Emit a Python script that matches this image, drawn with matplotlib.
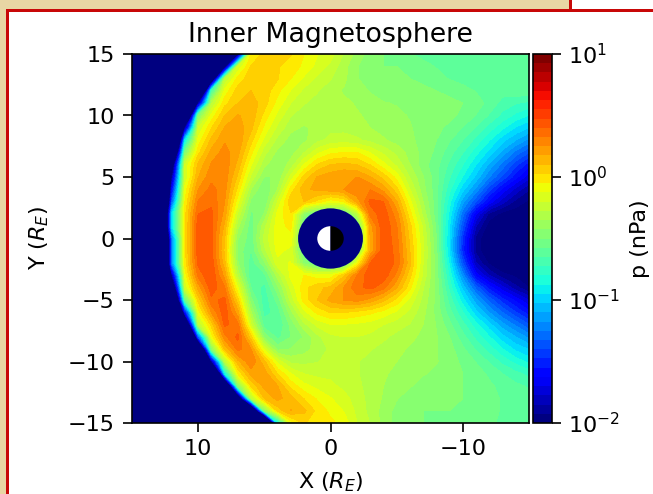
import numpy as np
import matplotlib
matplotlib.use("Agg")
import matplotlib.pyplot as plt
from matplotlib.cm import ScalarMappable
from matplotlib.colors import Normalize
from matplotlib.patches import Circle, Wedge, Rectangle

# log10 of p (nPa) at 1 R_E spacing
# columns run from X=15 (left) to X=-15 (right), one list per Y
x_grid = [15, 14, 13, 12, 11, 10, 9, 8, 7, 6, 5, 4, 3, 2, 1, 0, -1, -2, -3, -4, -5, -6, -7, -8, -9, -10, -11, -12, -13, -14, -15]
y_grid = [15, 14, 13, 12, 11, 10, 9, 8, 7, 6, 5, 4, 3, 2, 1, 0, -1, -2, -3, -4, -5, -6, -7, -8, -9, -10, -11, -12, -13, -14, -15]

y_p15 = [-2]*8 + [-2.2, -.05, .05, .07, .03, -.05, -.12, -.17, -.28, -.38, -.46, -.5, -.55, -.57, -.6, -.62, -.62, -.62, -.62, -.62, -.6, -.6, -.6]
y_p14 = [-2]*7 + [-2.3, -.2, .03, .06, .03, 0, -.07, -.15, -.22, -.32, -.42, -.48, -.5, -.5, -.52, -.55, -.58, -.6, -.62, -.62, -.62, -.62, -.6, -.58]
y_p13 = [-2]*6 + [-2.7, -.3, -.02, .07, .08, .03, -.05, -.14, -.22, -.27, -.33, -.42, -.46, -.48, -.48, -.5, -.52, -.55, -.58, -.6, -.62, -.62, -.62, -.6, -.58]
y_p12 = [-2]*5 + [-4, -.7, -.1, .06, .1, .07, -.03, -.13, -.22, -.27, -.32, -.36, -.4, -.43, -.46, -.46, -.46, -.48, -.5, -.52, -.55, -.58, -.6, -.62, -.6, -.58]
y_p11 = [-2]*4 + [-2.6, -2, -.3, 0, .1, .14, .06, -.08, -.2, -.27, -.3, -.32, -.33, -.36, -.4, -.42, -.43, -.44, -.46, -.47, -.48, -.5, -.54, -.6, -.68, -.72, -.75]
y_p10 = [-2]*4 + [-3.5, -.5, -.1, .1, .18, .15, 0, -.15, -.27, -.32, -.33, -.32, -.33, -.34, -.37, -.4, -.41, -.43, -.45, -.47, -.48, -.52, -.58, -.66, -.75, -.82, -.88]
y_p09 = [-2]*3 + [-2.6, -2, -.2, .02, .18, .22, .12, -.07, -.22, -.33, -.36, -.33, -.3, -.3, -.32, -.35, -.38, -.4, -.42, -.45, -.48, -.52, -.58, -.66, -.76, -.86, -.96, -1.03]
y_p08 = [-2]*3 + [-4.5, -.95, -.1, .12, .24, .24, .05, -.15, -.3, -.38, -.37, -.3, -.25, -.24, -.26, -.3, -.34, -.38, -.41, -.45, -.5, -.57, -.65, -.75, -.87, -1, -1.1, -1.2]
y_p07 = [-2]*3 + [-3.4, -.5, 0, .2, .28, .2, -.03, -.25, -.37, -.38, -.28, -.15, -.07, -.05, -.05, -.13, -.22, -.3, -.38, -.45, -.52, -.62, -.72, -.85, -.98, -1.13, -1.28, -1.4]
y_p06 = [-2]*3 + [-2.4, -.2, .12, .26, .3, .15, -.12, -.33, -.42, -.32, -.12, .03, .1, .12, .1, .02, -.1, -.22, -.35, -.47, -.55, -.67, -.8, -.95, -1.12, -1.28, -1.45, -1.6]
y_p05 = [-2]*4 + [-.2, .17, .3, .3, .08, -.22, -.43, -.42, -.18, .05, .18, .22, .25, .25, .18, .07, -.08, -.28, -.42, -.55, -.72, -.88, -1.05, -1.25, -1.42, -1.6, -1.75]
y_p04 = [-2]*2 + [-5, -1.7, -.1, .25, .35, .28, 0, -.35, -.5, -.35, -.02, .15, .2, .22, .25, .32, .32, .22, .05, -.2, -.4, -.55, -.78, -1, -1.2, -1.45, -1.65, -1.8, -1.92]
y_p03 = [-2]*2 + [-5, -1.4, -.05, .33, .38, .25, -.1, -.45, -.5, -.2, .08, .1, 0, -.1, -.05, .2, .42, .4, .18, -.1, -.35, -.55, -.85, -1.15, -1.4, -1.65, -1.82, -1.95, -2.02]
y_p02 = [-2]*2 + [-4.5, -1, 0, .4, .42, .22, -.22, -.52, -.42, -.1, .02, -.45, -.6, -.6, -.6, -.3, .35, .45, .28, -.02, -.3, -.55, -.9, -1.3, -1.7, -1.95, -2.03, -2.05, -2.05]
y_p01 = [-2]*2 + [-4.5, -1, 0, .45, .43, .15, -.33, -.55, -.3, -.08, -.03, -.6, -.6, -.6, -.6, -.6, .2, .47, .33, .05, -.22, -.52, -.95, -1.4, -1.85, -2.05, -2.1, -2.1, -2.1]
y_p00 = [-2]*2 + [-5, -1.3, 0, .45, .42, .1, -.42, -.55, -.25, -.08, -.08, -.6, -.6, -.6, -.6, -.6, .18, .47, .35, .08, -.2, -.5, -.97, -1.5, -1.95, -2.1, -2.1, -2.1, -2.1]
y_m01 = [-2]*2 + [-5, -1.3, 0, .45, .42, .08, -.45, -.58, -.3, -.1, -.15, -.6, -.6, -.6, -.6, -.5, .18, .47, .37, .1, -.18, -.48, -.97, -1.52, -1.95, -2.1, -2.1, -2.1, -2.1]
y_m02 = [-2]*2 + [-5, -1.3, -.02, .42, .45, .12, -.42, -.62, -.45, -.15, -.12, -.45, -.6, -.6, -.6, -.1, .4, .47, .38, .12, -.2, -.47, -.9, -1.4, -1.85, -2.02, -2.1, -2.1, -2.1]
y_m03 = [-2]*4 + [-.1, .35, .47, .22, -.3, -.65, -.6, -.32, -.1, -.05, -.1, -.1, .08, .33, .45, .45, .3, .05, -.22, -.46, -.82, -1.22, -1.65, -1.85, -1.97, -2.02, -2.05]
y_m04 = [-2]*3 + [-2.7, -.2, .2, .45, .33, -.12, -.58, -.68, -.45, -.18, 0, .08, .12, .25, .38, .42, .35, .18, -.03, -.27, -.45, -.75, -1.05, -1.35, -1.58, -1.75, -1.9, -2]
y_m05 = [-2]*3 + [-3.7, -.6, .05, .38, .42, .05, -.48, -.7, -.55, -.25, -.02, .1, .2, .25, .28, .22, .12, 0, -.15, -.3, -.45, -.68, -.92, -1.15, -1.35, -1.52, -1.65, -1.78]
y_m06 = [-2]*3 + [-5, -1.65, -.1, .25, .45, .2, -.35, -.68, -.62, -.38, -.15, -.03, .03, .03, 0, -.03, -.08, -.14, -.22, -.33, -.45, -.62, -.8, -1, -1.18, -1.33, -1.47, -1.6]
y_m07 = [-2]*4 + [-3, -.3, .05, .42, .35, -.2, -.62, -.65, -.48, -.3, -.18, -.13, -.13, -.14, -.16, -.2, -.24, -.28, -.35, -.43, -.55, -.7, -.85, -1, -1.15, -1.27, -1.4]
y_m08 = [-2]*4 + [-5, -1.4, -.1, .3, .42, .05, -.45, -.6, -.5, -.42, -.3, -.22, -.2, -.2, -.22, -.26, -.3, -.33, -.37, -.42, -.5, -.62, -.75, -.87, -1, -1.1, -1.2]
y_m09 = [-2]*5 + [-3.4, -.5, .1, .35, .25, -.15, -.45, -.42, -.38, -.32, -.26, -.24, -.25, -.27, -.3, -.33, -.36, -.38, -.42, -.47, -.56, -.66, -.76, -.87, -.97, -1.03]
y_m10 = [-2]*5 + [-2.6, -2, -.3, .15, .32, .12, -.15, -.3, -.3, -.28, -.25, -.25, -.27, -.3, -.33, -.35, -.37, -.39, -.42, -.46, -.52, -.58, -.66, -.75, -.83, -.9]
y_m11 = [-2]*6 + [-4.5, -.95, -.05, .2, .22, .02, -.12, -.2, -.22, -.22, -.24, -.27, -.3, -.34, -.37, -.4, -.42, -.44, -.46, -.5, -.54, -.59, -.65, -.7, -.75]
y_m12 = [-2]*7 + [-3.4, -.5, .03, .2, .18, 0, -.1, -.15, -.18, -.22, -.26, -.3, -.35, -.38, -.42, -.45, -.47, -.48, -.5, -.53, -.56, -.6, -.63, -.66]
y_m13 = [-2]*8 + [-2.7, -.3, .1, .2, .13, .02, -.06, -.12, -.17, -.24, -.3, -.36, -.42, -.46, -.48, -.48, -.48, -.5, -.53, -.56, -.58, -.6, -.62]
y_m14 = [-2]*9 + [-3.4, -.5, .05, .18, .12, 0, -.07, -.13, -.22, -.3, -.38, -.45, -.48, -.5, -.5, -.5, -.5, -.53, -.56, -.58, -.6, -.6]
y_m15 = [-2]*10 + [-4.5, -.95, -.1, .03, 0, -.03, -.08, -.2, -.28, -.38, -.46, -.48, -.5, -.5, -.5, -.52, -.55, -.57, -.58, -.6, -.6]

rows = [y_p15, y_p14, y_p13, y_p12, y_p11, y_p10, y_p09, y_p08, y_p07, y_p06, y_p05,
        y_p04, y_p03, y_p02, y_p01, y_p00, y_m01, y_m02, y_m03, y_m04, y_m05, y_m06,
        y_m07, y_m08, y_m09, y_m10, y_m11, y_m12, y_m13, y_m14, y_m15]

xticks = [10, 0, -10]
yticks = [-15, -10, -5, 0, 5, 10, 15]
cbar_ticks = [-2, -1, 0, 1]
cbar_labels = ['$10^{-2}$', '$10^{-1}$', '$10^{0}$', '$10^{1}$']

W, H = 653, 494
TAN = '#e8d6a4'
RED = '#c80808'
NAVY = '#000080'
N_BANDS = 40


def px_rect(x0, y0, x1, y1, color):
    # rectangle given in image pixels, y measured from the top
    return Rectangle((x0 / W, 1 - y1 / H), (x1 - x0) / W, (y1 - y0) / H,
                     transform=fig.transFigure, facecolor=color, edgecolor='none', zorder=-5)


fig = plt.figure(figsize=(W / 100, H / 100), dpi=100)

# page frame around the figure
fig.add_artist(px_rect(0, 0, 570, 9, TAN))
fig.add_artist(px_rect(0, 0, 6, H, TAN))
fig.add_artist(px_rect(6, 9, W, 12, RED))
fig.add_artist(px_rect(6, 9, 9, H, RED))
fig.add_artist(px_rect(569, 0, 572, 9, RED))

ax = fig.add_axes([132 / W, 1 - 423 / H, (529 - 132) / W, (423 - 54) / H])
cax = fig.add_axes([533 / W, 1 - 423 / H, (552 - 533) / W, (423 - 54) / H])

levels = np.linspace(-2, 1, N_BANDS + 1)
cs = ax.contourf(x_grid, y_grid, np.array(rows), levels=levels, cmap='jet', extend='both')

# inner boundary and the day/night Earth
ax.add_patch(Circle((0, 0), 2.45, facecolor=NAVY, edgecolor='none', zorder=3))
ax.add_patch(Wedge((0, 0), 1.0, -90, 90, facecolor='white', edgecolor='none', zorder=4))
ax.add_patch(Wedge((0, 0), 1.0, 90, 270, facecolor='black', edgecolor='none', zorder=4))

ax.set_xlim(15, -15)
ax.set_ylim(-15, 15)
ax.set_xticks(xticks)
ax.set_yticks(yticks)
ax.tick_params(labelsize=16, length=6.5, width=1.2)
ax.tick_params(axis='y', pad=6)
ax.tick_params(axis='x', pad=5)
ax.set_title('Inner Magnetosphere', fontsize=19.3, pad=9)
ax.set_xlabel('X ($R_E$)', fontsize=16, labelpad=8)
ax.set_ylabel('Y ($R_E$)', fontsize=16, labelpad=12)
for spine in ax.spines.values():
    spine.set_linewidth(1.2)

# no end triangles on the bar, so it gets its own mappable with the same bands
mappable = ScalarMappable(norm=Normalize(-2, 1), cmap=plt.get_cmap('jet', N_BANDS))
cbar = fig.colorbar(mappable, cax=cax)
cbar.set_ticks(cbar_ticks)
cbar.set_ticklabels(cbar_labels)
cbar.ax.minorticks_off()
cbar.ax.tick_params(labelsize=16, length=6.5, width=1.2, pad=5)
cbar.outline.set_linewidth(1.2)
cbar.set_label('p (nPa)', fontsize=16, labelpad=7)

fig.savefig('out.png', dpi=100)
